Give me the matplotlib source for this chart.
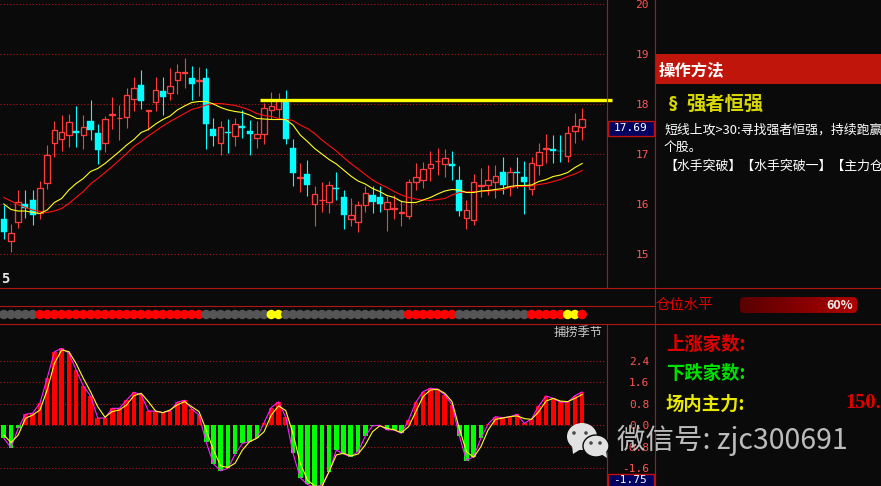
import numpy as np
import matplotlib
matplotlib.use("Agg")
import matplotlib.pyplot as plt
from matplotlib.patches import Ellipse, Polygon, Rectangle, FancyBboxPatch

plt.rcParams["font.family"] = ["Noto Sans CJK SC", "DejaVu Sans"]

BG = "#0a0a0a"
FRAME = "#b01414"
GRID = "#b01414"
UP = "#ff3c3c"
DOWN = "#00ffff"
AXIS_TEXT = "#ff5555"

opens = [15.70, 15.27, 15.65, 16.00, 16.08, 15.83, 16.43, 17.21, 17.31, 17.37,
         17.46, 17.37, 17.66, 17.42, 17.21, 17.78, 17.71, 17.73, 18.11, 18.38,
         17.85, 18.03, 18.26, 18.21, 18.49, 18.62, 18.52, 18.46, 18.52, 17.50,
         17.21, 17.44, 17.36, 17.56, 17.46, 17.33, 17.41, 17.87, 17.91, 18.08,
         17.12, 16.52, 16.60, 16.00, 16.08, 16.05, 16.33, 16.14, 15.71, 15.65,
         15.99, 16.18, 16.14, 15.91, 15.91, 15.83, 15.77, 16.45, 16.49, 16.71,
         16.85, 16.81, 16.80, 16.48, 15.73, 15.69, 16.36, 16.38, 16.45, 16.64,
         16.34, 16.65, 16.54, 16.31, 16.79, 17.11, 17.10, 17.06, 16.97, 17.47,
         17.53]
closes = [15.45, 15.41, 16.03, 15.93, 15.79, 16.33, 16.99, 17.47, 17.43, 17.63,
          17.43, 17.53, 17.48, 17.08, 17.69, 17.79, 17.72, 18.17, 18.32, 18.06,
          17.87, 18.27, 18.14, 18.35, 18.63, 18.63, 18.40, 18.47, 17.60, 17.36,
          17.53, 17.43, 17.61, 17.52, 17.40, 17.41, 17.93, 17.95, 18.08, 17.30,
          16.62, 16.53, 16.38, 16.19, 16.09, 16.39, 16.31, 15.78, 15.79, 15.97,
          16.21, 16.04, 16.00, 16.03, 15.93, 15.85, 16.43, 16.53, 16.71, 16.79,
          16.86, 16.91, 16.76, 15.86, 15.89, 16.43, 16.37, 16.49, 16.55, 16.38,
          16.65, 16.63, 16.44, 16.83, 17.03, 17.13, 17.06, 17.05, 17.41, 17.55,
          17.69]
highs = [15.98, 15.61, 16.29, 16.29, 16.29, 16.46, 17.17, 17.66, 17.79, 17.81,
         17.96, 17.78, 18.08, 17.61, 17.76, 18.14, 17.98, 18.32, 18.54, 18.68,
         17.87, 18.53, 18.54, 18.72, 18.80, 18.92, 18.76, 18.74, 18.72, 17.71,
         17.66, 17.70, 17.72, 17.88, 17.68, 17.66, 18.01, 18.24, 18.22, 18.28,
         17.30, 16.82, 16.88, 16.36, 16.44, 16.46, 16.64, 16.28, 16.12, 16.06,
         16.36, 16.35, 16.36, 16.16, 16.18, 16.08, 16.50, 16.82, 16.84, 17.06,
         17.12, 17.10, 17.06, 16.76, 16.08, 16.60, 16.72, 16.78, 16.78, 16.94,
         16.74, 16.94, 16.86, 16.94, 17.22, 17.40, 17.38, 17.38, 17.56, 17.82,
         17.92]
lows = [15.30, 15.04, 15.53, 15.73, 15.58, 15.71, 16.31, 16.95, 17.06, 17.14,
        17.14, 17.10, 17.28, 16.80, 17.04, 17.50, 17.28, 17.52, 17.86, 17.90,
        17.49, 17.86, 17.78, 18.08, 18.20, 18.32, 18.08, 18.16, 17.10, 17.16,
        16.98, 17.02, 17.16, 17.32, 16.98, 17.12, 17.20, 17.70, 17.70, 17.20,
        16.36, 16.24, 16.16, 15.56, 15.84, 15.82, 16.08, 15.50, 15.56, 15.44,
        15.84, 15.82, 15.84, 15.46, 15.70, 15.56, 15.70, 16.28, 16.32, 16.46,
        16.58, 16.54, 16.48, 15.76, 15.50, 15.58, 16.14, 16.18, 16.12, 16.20,
        16.16, 16.32, 15.80, 16.18, 16.58, 16.82, 16.82, 16.84, 16.84, 17.22,
        17.28]
ma_yellow = [16.00, 15.89, 15.86, 15.86, 15.83, 15.81, 15.88, 16.03, 16.11, 16.28,
             16.41, 16.51, 16.65, 16.71, 16.81, 16.93, 17.05, 17.18, 17.29, 17.43,
             17.49, 17.60, 17.69, 17.76, 17.88, 17.96, 18.03, 18.05, 18.05, 18.00,
             17.93, 17.88, 17.85, 17.83, 17.78, 17.71, 17.70, 17.69, 17.69, 17.69,
             17.58, 17.38, 17.25, 17.11, 17.00, 16.89, 16.80, 16.68, 16.56, 16.46,
             16.40, 16.31, 16.25, 16.17, 16.13, 16.05, 16.03, 16.03, 16.08, 16.13,
             16.20, 16.26, 16.29, 16.28, 16.23, 16.23, 16.26, 16.27, 16.29, 16.31,
             16.35, 16.37, 16.37, 16.38, 16.45, 16.49, 16.55, 16.58, 16.63, 16.73,
             16.81]
ma_red = [16.13, 16.06, 15.99, 15.93, 15.88, 15.85, 15.83, 15.86, 15.91, 16.01,
          16.13, 16.25, 16.40, 16.51, 16.63, 16.75, 16.88, 17.01, 17.15, 17.25,
          17.36, 17.46, 17.56, 17.65, 17.73, 17.81, 17.89, 17.93, 17.98, 18.01,
          18.01, 17.99, 17.97, 17.93, 17.88, 17.81, 17.77, 17.75, 17.71, 17.69,
          17.67, 17.58, 17.51, 17.41, 17.28, 17.17, 17.06, 16.93, 16.81, 16.70,
          16.59, 16.48, 16.40, 16.33, 16.25, 16.18, 16.13, 16.10, 16.08, 16.07,
          16.09, 16.11, 16.18, 16.23, 16.24, 16.25, 16.25, 16.26, 16.27, 16.28,
          16.33, 16.35, 16.35, 16.36, 16.39, 16.41, 16.45, 16.49, 16.55, 16.60,
          16.67]
resistance_level = 18.08

osc_bars = [-0.48, -0.83, -0.11, 0.41, 0.45, 0.82, 1.75, 2.73, 2.86, 2.68,
            2.06, 1.46, 1.09, 0.27, 0.27, 0.63, 0.63, 0.94, 1.23, 1.13,
            0.53, 0.53, 0.47, 0.53, 0.86, 0.93, 0.61, 0.38, -0.63, -1.43,
            -1.69, -1.60, -1.07, -0.67, -0.61, -0.48, 0.10, 0.66, 0.87, 0.30,
            -1.04, -1.95, -2.20, -2.30, -2.22, -1.72, -0.92, -1.07, -1.16, -0.98,
            -0.40, -0.02, 0.00, -0.17, -0.17, -0.30, 0.20, 0.86, 1.25, 1.38,
            1.34, 1.13, 0.76, -0.38, -1.31, -1.16, -0.48, 0.05, 0.32, 0.28,
            0.32, 0.41, 0.07, 0.24, 0.72, 1.09, 1.00, 0.86, 0.86, 1.10,
            1.24]
osc_signal = [-0.36, -0.64, -0.36, 0.26, 0.38, 0.57, 1.31, 2.30, 2.80, 2.74,
              2.30, 1.75, 1.25, 0.69, 0.30, 0.51, 0.57, 0.76, 1.10, 1.19,
              0.88, 0.53, 0.47, 0.57, 0.76, 0.88, 0.69, 0.51, -0.17, -0.92,
              -1.51, -1.57, -1.41, -0.92, -0.61, -0.48, -0.24, 0.38, 0.72, 0.55,
              -0.30, -1.41, -2.03, -2.26, -2.28, -1.72, -1.10, -1.04, -1.14, -1.07,
              -0.73, -0.24, -0.02, -0.11, -0.17, -0.27, -0.05, 0.51, 1.07, 1.31,
              1.34, 1.19, 0.88, -0.11, -0.98, -1.19, -0.79, -0.17, 0.22, 0.27,
              0.32, 0.35, 0.25, 0.22, 0.51, 0.90, 1.00, 0.90, 0.88, 1.00,
              1.15]
# n = neutral, r = red, y = yellow, one per candle
signal_row = ("nnnnn" "rrrrrrrrrrrrrrrrrrrrrrr" "nnnnnnnnn" "yy"
              "nnnnnnnnnnnnnnnnn" "rrrrrrr" "nnnnnnnnnn" "rrrrr" "yy" "r")
signal_colors = {"n": "#555555", "r": "#ff0000", "y": "#ffff00"}

price_ticks = [15, 16, 17, 18, 19, 20]
osc_ticks = [-1.6, -0.8, 0.0, 0.8, 1.6, 2.4]

W, H = 881, 486
DOTTED = (0, (1, 1.9))
fig = plt.figure(figsize=(W / 100, H / 100), dpi=100, facecolor=BG)


def px_axes(left, top, right, bottom):
    ax = fig.add_axes([left / W, 1 - bottom / H, (right - left) / W, (bottom - top) / H])
    ax.set_facecolor("none")
    for s in ax.spines.values():
        s.set_visible(False)
    # same candle spacing in all three panels
    ax.set_xlim((left - 3.77) / 7.23, (right - 3.77) / 7.23)
    return ax


x = np.arange(len(closes))
op = np.array(opens)
cl = np.array(closes)
hi = np.array(highs)
lo = np.array(lows)
rising = cl >= op

# price panel
ax = px_axes(0, 0, 606, 287)
ax.set_ylim(18 - 183 / 50, 18 + 104 / 50)
ax.set_axisbelow(True)
ax.grid(axis="y", color=GRID, lw=0.8, ls=DOTTED)
ax.yaxis.tick_right()
ax.set_yticks(price_ticks)
ax.set_yticklabels([str(t) for t in price_ticks], family="DejaVu Sans Mono", fontsize=8,
                   color=AXIS_TEXT, ha="right")
ax.tick_params(axis="y", length=0, pad=31)
ax.set_xticks([])

ax.vlines(x[rising], lo[rising], hi[rising], color=UP, lw=0.8, zorder=2)
ax.vlines(x[~rising], lo[~rising], hi[~rising], color=DOWN, lw=0.8, zorder=2)
ax.bar(x[rising], (cl - op)[rising], bottom=op[rising], width=0.76, facecolor=BG, edgecolor=UP,
       lw=0.95, zorder=3)
ax.bar(x[~rising], (op - cl)[~rising], bottom=cl[~rising], width=0.84, facecolor=DOWN,
       edgecolor=DOWN, lw=0.3, zorder=3)
ax.plot(x, ma_red, color="#ff1010", lw=0.8, zorder=4)
ax.plot(x, ma_yellow, color="#ffff20", lw=0.8, zorder=5)
ax.plot([35.4, 84.1], [resistance_level, resistance_level], color="#ffff00", lw=2.4,
        solid_capstyle="butt", clip_on=False, zorder=6)

# signal dots
ax_dots = px_axes(0, 306, 606, 323)
ax_dots.set_ylim(-1, 1)
ax_dots.axis("off")
ax_dots.scatter(x, np.zeros(len(x)), s=46, c=[signal_colors[c] for c in signal_row], linewidths=0)

# oscillator panel
ax_osc = px_axes(0, 324, 606, 486)
ax_osc.set_ylim((425.3 - 486) / 26.9, (425.3 - 324) / 26.9)
ax_osc.set_axisbelow(True)
ax_osc.grid(axis="y", color=GRID, lw=0.8, ls=DOTTED)
ax_osc.yaxis.tick_right()
ax_osc.set_yticks(osc_ticks)
ax_osc.set_yticklabels([f"{t:.1f}" for t in osc_ticks], family="DejaVu Sans Mono", fontsize=8,
                       color=AXIS_TEXT, ha="right")
ax_osc.tick_params(axis="y", length=0, pad=31)
ax_osc.set_xticks([])
bars = np.array(osc_bars)
ax_osc.bar(x, bars, width=0.64, color=np.where(bars >= 0, "#ff0000", "#00ff00"), zorder=2)
ax_osc.plot(x, osc_bars, color="#ff20ff", lw=0.8, zorder=3)
ax_osc.plot(x, osc_signal, color="#ffff20", lw=0.8, zorder=4)

# everything else is laid out in pixels over the whole picture
ov = fig.add_axes([0, 0, 1, 1], zorder=10)
ov.set_xlim(0, W)
ov.set_ylim(H, 0)
ov.axis("off")
ov.patch.set_alpha(0)

for xs, ys in [([606.5, 606.5], [0, 287.5]), ([606.5, 606.5], [323.5, 486]), ([654.5, 654.5], [0, 486]),
               ([0, 881], [287.5, 287.5]), ([0, 654.5], [305.5, 305.5]), ([0, 881], [323.5, 323.5])]:
    ov.plot(xs, ys, color=FRAME, lw=0.8)

ov.add_patch(Rectangle((655, 54), 226, 30, facecolor="#c0150a", edgecolor="none"))
ov.text(659, 70, "操作方法", color="white", fontsize=11.8, fontweight="bold", va="center")
ov.text(669, 104, "§", color="#d8d800", fontsize=12, fontweight="bold", va="center", family="DejaVu Sans")
ov.text(686, 104, "强者恒强", color="#d8d800", fontsize=13.9, fontweight="bold", va="center")
ov.text(664, 130, "短线上攻>30:寻找强者恒强\uff0c持续跑赢", color="white", fontsize=9.3, va="center", clip_on=True)
ov.text(664, 148, "个股。", color="white", fontsize=9.3, va="center")
ov.text(664, 166, "【水手突破】【水手突破一】【主力仓", color="white", fontsize=9.3, va="center", clip_on=True)

ov.text(5, 279, "5", color="#e8e8e8", fontsize=10, fontweight="bold", family="DejaVu Sans Mono",
        va="center", ha="center")
ov.text(603, 332, "捕捞季节", color="#c8c8c8", fontsize=8.8, va="center", ha="right")

# last-value boxes
ov.add_patch(Rectangle((607.5, 120.5), 46.5, 15, facecolor="#000060", edgecolor="#c01010", lw=1))
ov.text(631, 128, "17.69", color="white", fontsize=8, family="DejaVu Sans Mono", ha="center", va="center")
ov.add_patch(Rectangle((607.5, 473.5), 46.5, 14, facecolor="#000060", edgecolor="#c01010", lw=1))
ov.text(630, 480, "-1.75", color="white", fontsize=8, family="DejaVu Sans Mono", ha="center", va="center")

# position gauge
ov.text(656, 305, "仓位水平", color="#e00000", fontsize=10.4, va="center")
gauge = ov.imshow(np.linspace(0.35, 0.68, 128).reshape(1, -1), extent=(740, 857, 313, 297), aspect="auto",
                  cmap=matplotlib.colors.LinearSegmentedColormap.from_list("g", ["#000000", "#ff0000"]),
                  vmin=0, vmax=1, zorder=2)
clip = FancyBboxPatch((742, 299), 113, 12, boxstyle="round,pad=2,rounding_size=4", transform=ov.transData,
                      facecolor="none", edgecolor="none")
ov.add_patch(clip)
gauge.set_clip_path(clip)
ov.set_xlim(0, W)
ov.set_ylim(H, 0)
ov.text(840, 305, "60%", color="#f0e8e8", fontsize=9, fontweight="bold", ha="center", va="center", zorder=3)

ov.text(666, 344, "上涨家数:", color="#e00000", fontsize=13.2, fontweight="bold", va="center")
ov.text(666, 373, "下跌家数:", color="#00e000", fontsize=13.2, fontweight="bold", va="center")
ov.text(666, 404, "场内主力:", color="#e8e800", fontsize=13.2, fontweight="bold", va="center")
ov.text(845, 403, "150.", color="#e00000", fontsize=14.8, fontweight="bold", family="Liberation Serif", va="center")

# watermark
wm = "#e2e2e2"
ov.add_patch(Ellipse((582, 436.5), 30, 27, facecolor=wm, edgecolor="none", zorder=5))
ov.add_patch(Polygon([[572, 445], [573, 454], [581, 449]], facecolor=wm, edgecolor="none", zorder=5))
ov.add_patch(Ellipse((596, 446), 26, 22, facecolor=wm, edgecolor=BG, lw=1, zorder=6))
ov.add_patch(Polygon([[601, 454], [607, 458], [606, 450]], facecolor=wm, edgecolor="none", zorder=6))
for ex, ey, zo in [(574, 433, 7), (586, 433, 7), (591, 443, 8), (600, 443, 8)]:
    ov.add_patch(Ellipse((ex, ey), 3.6, 3.6, facecolor="#4a4a4a", edgecolor="none", zorder=zo))
ov.text(617, 440, "微信号: zjc300691", color="#cccccc", fontsize=20.5, va="center", alpha=0.92, zorder=7,
        family=["Noto Sans CJK SC", "Open Sans"])

fig.savefig("out.png", dpi=100, facecolor=BG)
